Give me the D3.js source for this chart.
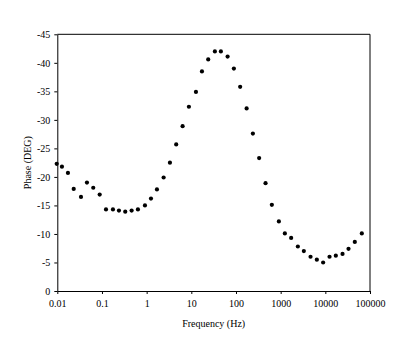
<!DOCTYPE html>
<html>
<head>
<meta charset="utf-8">
<script src="https://cdn.jsdelivr.net/npm/d3@7"></script>
<style>
  html, body { margin: 0; padding: 0; background: #fff; }
  svg text { font-family: "Liberation Serif", "Times New Roman", serif; fill: #000; }
</style>
</head>
<body>
<svg id="chart" width="402" height="347"></svg>
<script>
// Measured frequency sweep (Hz) and phase response (degrees)
const frequency = [
  0.0097, 0.0127, 0.0173, 0.0233, 0.0339, 0.0461, 0.0638, 0.0889,
  0.123, 0.176, 0.240, 0.332, 0.461, 0.638, 0.917, 1.25,
  1.70, 2.40, 3.32, 4.59, 6.38, 8.83, 12.7, 17.3,
  23.9, 33.7, 45.9, 64.9, 89.7, 124, 173, 239,
  330, 459, 635, 912, 1242, 1718, 2427, 3304,
  4667, 6455, 8933, 12420, 17180, 24270, 33040, 45700, 65600
];
const phase = [
  -22.3, -21.8, -20.7, -17.9, -16.5, -19.0, -18.1, -16.9,
  -14.3, -14.3, -14.1, -13.9, -14.1, -14.3, -15.0, -16.2,
  -17.8, -19.9, -22.5, -25.7, -28.9, -32.3, -34.9, -38.5,
  -40.6, -42.0, -42.0, -41.1, -39.0, -35.8, -32.0, -27.6,
  -23.3, -18.9, -15.1, -12.2, -10.1, -9.3, -7.8, -7.0,
  -6.0, -5.5, -5.0, -6.0, -6.2, -6.5, -7.4, -8.6, -10.1
];
const xTicks = [0.01, 0.1, 1, 10, 100, 1000, 10000, 100000];
const xTickLabels = ["0.01", "0.1", "1", "10", "100", "1000", "10000", "100000"];
const yTicks = [0, -5, -10, -15, -20, -25, -30, -35, -40, -45];
const yTickLabels = ["0", "-5", "-10", "-15", "-20", "-25", "-30", "-35", "-40", "-45"];

const svg = d3.select("#chart");
const plot = { left: 57.3, right: 370, top: 34.3, bottom: 291 };

const x = d3.scaleLog().domain([0.01, 100000]).range([plot.left, plot.right]);
const y = d3.scaleLinear().domain([0, -45]).range([plot.bottom, plot.top]);

// Frame: top and right edges
svg.append("path")
  .attr("d", `M${plot.left},${plot.top}H${plot.right}V${plot.bottom}`)
  .attr("fill", "none").attr("stroke", "#000").attr("stroke-width", 1);

const xAxis = svg.append("g")
  .attr("transform", `translate(0,${plot.bottom})`)
  .call(d3.axisBottom(x).tickValues(xTicks)
    .tickFormat((d, i) => xTickLabels[i]).tickSize(3).tickSizeOuter(0).tickPadding(6));

const yAxis = svg.append("g")
  .attr("transform", `translate(${plot.left},0)`)
  .call(d3.axisLeft(y).tickValues(yTicks)
    .tickFormat((d, i) => yTickLabels[i]).tickSize(3).tickSizeOuter(0).tickPadding(4));

[xAxis, yAxis].forEach(g => {
  g.select(".domain").attr("stroke", "#000").attr("stroke-width", 1);
  g.selectAll(".tick line").attr("stroke", "#000");
  g.selectAll("text").style("font-family", '"Liberation Serif", "Times New Roman", serif')
    .style("font-size", "10px").attr("fill", "#000");
});

// Axis titles
svg.append("text")
  .attr("x", (plot.left + plot.right) / 2).attr("y", 327)
  .attr("text-anchor", "middle").style("font-size", "10px")
  .text("Frequency (Hz)");

svg.append("text")
  .attr("transform", `translate(31,${(plot.top + plot.bottom) / 2}) rotate(-90)`)
  .attr("text-anchor", "middle").style("font-size", "10px")
  .text("Phase (DEG)");

// Data markers
svg.append("g").selectAll("circle")
  .data(frequency.map((f, i) => ({ f, p: phase[i] })))
  .join("circle")
  .attr("cx", d => x(d.f))
  .attr("cy", d => y(d.p))
  .attr("r", 2.1)
  .attr("fill", "#000");
</script>
</body>
</html>
